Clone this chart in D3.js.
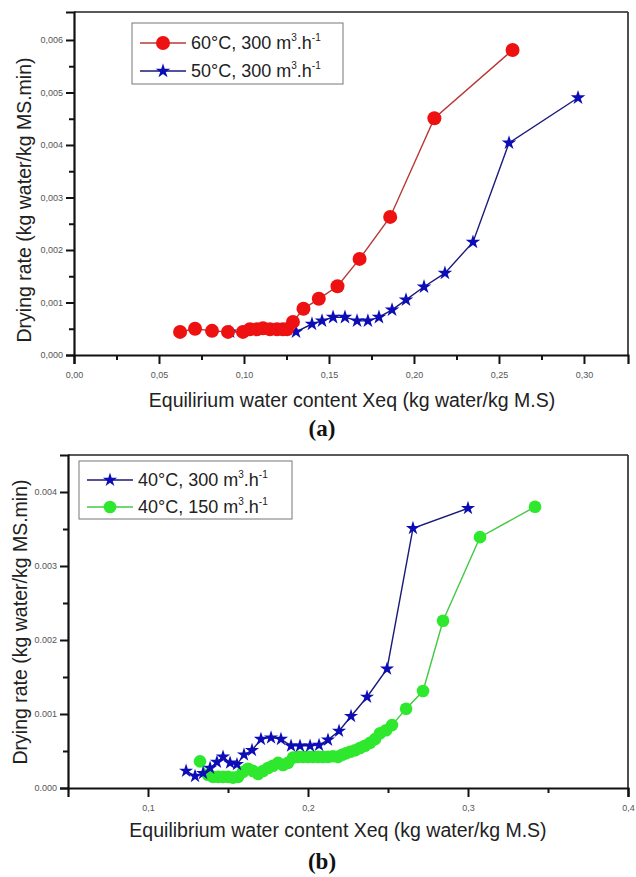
<!DOCTYPE html>
<meta charset="utf-8">
<style>
body { margin: 0; background: #fff; }
svg text { font-family: "Liberation Sans", Arial, sans-serif; }
.tick-label { font-size: 9px; fill: #555; }
.axis-title { font-size: 19.5px; fill: #222; }
.panel-tag { font-family: "Liberation Serif", serif !important; font-weight: bold; font-size: 23px; fill: #111; }
.legend-text { font-size: 18px; fill: #222; }
</style>
<body>
<script src="https://d3js.org/d3.v7.min.js"></script>
<script>

// panel (a) - 60°C, 300 m3/h
var redX = [0.0624, 0.0712, 0.0812, 0.0906, 0.0994, 0.1035, 0.1076, 0.1112, 0.1153, 0.1194, 0.1229, 0.1253, 0.1288, 0.135, 0.144, 0.155, 0.168, 0.186, 0.212, 0.258];
var redY = [0.00044, 0.00050, 0.00046, 0.00044, 0.00044, 0.00049, 0.00049, 0.00051, 0.00049, 0.00049, 0.00049, 0.00049, 0.00063, 0.00088, 0.00107, 0.00131, 0.00183, 0.00263, 0.00451, 0.00581];

// panel (a) - 50°C, 300 m3/h
var blueAX = [0.0918, 0.1306, 0.140, 0.1459, 0.1524, 0.1594, 0.1665, 0.1729, 0.1794, 0.1871, 0.1953, 0.2059, 0.2182, 0.2347, 0.2559, 0.2965];
var blueAY = [0.00044, 0.00044, 0.00059, 0.00065, 0.00072, 0.00072, 0.00065, 0.00065, 0.00072, 0.00086, 0.00105, 0.00130, 0.00156, 0.00215, 0.00404, 0.00490];

// panel (b) - 40°C, 300 m3/h
var blueBX = [0.1238, 0.1294, 0.1344, 0.1388, 0.1431, 0.1469, 0.1513, 0.1556, 0.160, 0.165, 0.1706, 0.1769, 0.1831, 0.1894, 0.195, 0.2013, 0.2069, 0.2125, 0.2194, 0.2269, 0.2369, 0.2494, 0.2656, 0.300];
var blueBY = [0.00023, 0.00016, 0.00020, 0.00027, 0.00035, 0.00042, 0.00034, 0.00032, 0.00045, 0.00051, 0.00066, 0.00068, 0.00066, 0.00057, 0.00057, 0.00057, 0.00058, 0.00065, 0.00077, 0.00097, 0.00123, 0.00161, 0.00351, 0.00378];

// panel (b) - 40°C, 150 m3/h
var greenX = [0.1325, 0.1375, 0.1406, 0.1438, 0.1469, 0.150, 0.1531, 0.1563, 0.1594, 0.1625, 0.1656, 0.1688, 0.1719, 0.175, 0.1781, 0.1813, 0.1844, 0.1875, 0.1906, 0.1938, 0.1969, 0.200, 0.2031, 0.2063, 0.2094, 0.2125, 0.2156, 0.2188, 0.2213, 0.2238, 0.2263, 0.2294, 0.2325, 0.2356, 0.2388, 0.2419, 0.245, 0.2488, 0.2525, 0.2613, 0.2719, 0.2844, 0.3075, 0.3419];
var greenY = [0.00036, 0.00018, 0.00015, 0.00015, 0.00015, 0.00015, 0.00014, 0.00015, 0.00022, 0.00026, 0.00023, 0.00019, 0.00023, 0.00027, 0.00030, 0.00034, 0.00031, 0.00034, 0.00041, 0.00042, 0.00042, 0.00042, 0.00042, 0.00042, 0.00042, 0.00042, 0.00043, 0.00042, 0.00045, 0.00047, 0.00049, 0.00051, 0.00054, 0.00057, 0.00061, 0.00066, 0.00074, 0.00078, 0.00085, 0.00107, 0.00131, 0.00226, 0.00339, 0.00380];

var aXTicks = [0, 0.05, 0.10, 0.15, 0.20, 0.25, 0.30];
var aYTicks = [0, 0.001, 0.002, 0.003, 0.004, 0.005, 0.006];
var bXTicks = [0.1, 0.2, 0.3, 0.4];
var bYTicks = [0, 0.001, 0.002, 0.003, 0.004];

var svg = d3.select("body").append("svg")
  .attr("width", 636)
  .attr("height", 877);

function zipXY(xs, ys) {
  return xs.map(function(x, i) { return [x, ys[i]]; });
}

function drawMarkers(g, pts, s) {
  if (s.shape === "star") {
    g.selectAll(null).data(pts).enter().append("path")
      .attr("transform", function(d) { return "translate(" + d[0] + "," + d[1] + ")"; })
      .attr("d", d3.symbol().type(d3.symbolStar).size(s.size))
      .attr("fill", s.color);
  } else {
    g.selectAll(null).data(pts).enter().append("circle")
      .attr("cx", function(d) { return d[0]; })
      .attr("cy", function(d) { return d[1]; })
      .attr("r", s.r)
      .attr("fill", s.color);
  }
}

function drawPanel(p) {
  var x = d3.scaleLinear().domain(p.xDomain).range([p.left, p.right]);
  var y = d3.scaleLinear().domain(p.yDomain).range([p.bottom, p.top]);
  var g = svg.append("g");

  // frame (top + right thinner)
  g.append("line").attr("x1", p.left).attr("x2", p.right).attr("y1", p.top).attr("y2", p.top)
    .attr("stroke", "#222").attr("stroke-width", 1.6);
  g.append("line").attr("x1", p.right).attr("x2", p.right).attr("y1", p.top).attr("y2", p.bottom)
    .attr("stroke", "#222").attr("stroke-width", 1.6);

  // bottom axis
  var xAxis = d3.axisBottom(x).tickValues(p.xTicks).tickSize(9).tickPadding(8)
    .tickFormat(p.xFormat);
  g.append("g").attr("transform", "translate(0," + p.bottom + ")").call(xAxis);
  var xMinor = d3.axisBottom(x).tickValues(p.xMinor).tickSize(5).tickFormat("");
  g.append("g").attr("transform", "translate(0," + p.bottom + ")").call(xMinor)
    .select(".domain").remove();

  // left axis
  var yAxis = d3.axisLeft(y).tickValues(p.yTicks).tickSize(8).tickPadding(3)
    .tickFormat(p.yFormat);
  g.append("g").attr("transform", "translate(" + p.left + ",0)").call(yAxis);
  var yMinor = d3.axisLeft(y).tickValues(p.yMinor).tickSize(5).tickFormat("");
  g.append("g").attr("transform", "translate(" + p.left + ",0)").call(yMinor)
    .select(".domain").remove();

  g.selectAll(".domain").attr("stroke", "#111").attr("stroke-width", 2.2);
  g.selectAll(".tick line").attr("stroke", "#111").attr("stroke-width", 2);
  g.selectAll(".tick text").attr("class", "tick-label");
  g.selectAll("g").attr("font-size", null).attr("font-family", null);

  // axis titles
  g.append("text").attr("class", "axis-title")
    .attr("transform", "translate(" + p.yTitleX + "," + p.yTitleY + ") rotate(-90)")
    .attr("text-anchor", "middle")
    .text("Drying rate (kg water/kg MS.min)");
  g.append("text").attr("class", "axis-title")
    .attr("x", p.xTitleX).attr("y", p.xTitleY)
    .attr("text-anchor", "middle")
    .text(p.xTitle);
  g.append("text").attr("class", "panel-tag")
    .attr("x", p.tagX).attr("y", p.tagY)
    .attr("text-anchor", "middle")
    .text(p.tag);

  var line = d3.line().x(function(d) { return x(d[0]); }).y(function(d) { return y(d[1]); });

  // drawing order can differ from legend order
  p.drawOrder.forEach(function(k) {
    var s = p.series[k];
    var pts = zipXY(s.xs, s.ys);
    g.append("path").datum(pts)
      .attr("fill", "none")
      .attr("stroke", s.lineColor)
      .attr("stroke-width", 1.4)
      .attr("d", line);
    drawMarkers(g, pts.map(function(d) { return [x(d[0]), y(d[1])]; }), s);
  });

  // legend
  var lg = g.append("g");
  lg.append("rect")
    .attr("x", p.legend.x).attr("y", p.legend.y)
    .attr("width", p.legend.w).attr("height", p.legend.h)
    .attr("fill", "#fff").attr("stroke", "#777").attr("stroke-width", 1);
  p.legend.rows.forEach(function(r, i) {
    var cy = p.legend.y + p.legend.row0 + i * p.legend.rowStep;
    var s = p.series[r.series];
    lg.append("line")
      .attr("x1", p.legend.x + 8).attr("x2", p.legend.x + 54)
      .attr("y1", cy).attr("y2", cy)
      .attr("stroke", s.lineColor).attr("stroke-width", 1.4);
    drawMarkers(lg, [[p.legend.x + 31, cy]], s);
    var t = lg.append("text").attr("class", "legend-text")
      .attr("x", p.legend.x + 59).attr("y", cy + 6);
    t.append("tspan").text(r.label + " m");
    t.append("tspan").attr("font-size", "10px").attr("dy", -8).text("3");
    t.append("tspan").attr("dy", 8).text(".h");
    t.append("tspan").attr("font-size", "10px").attr("dy", -8).text("-1");
  });
}

drawPanel({
  left: 74, right: 628, top: 12, bottom: 355,
  xDomain: [0, 0.3259], yDomain: [0, 0.006533],
  xTicks: aXTicks, xMinor: [0.025, 0.075, 0.125, 0.175, 0.225, 0.275],
  yTicks: aYTicks, yMinor: [0.0005, 0.0015, 0.0025, 0.0035, 0.0045, 0.0055],
  xFormat: function(d) { return d3.format(".2f")(d).replace(".", ","); },
  yFormat: function(d) { return d3.format(".3f")(d).replace(".", ","); },
  yTitleX: 31, yTitleY: 200,
  xTitle: "Equilirium water content Xeq (kg water/kg M.S)",
  xTitleX: 352, xTitleY: 407,
  tag: "(a)", tagX: 322, tagY: 436,
  series: [
    { xs: redX, ys: redY, color: "#ee1111", lineColor: "#b83838", shape: "circle", r: 7 },
    { xs: blueAX, ys: blueAY, color: "#0d0db8", lineColor: "#1a1a7a", shape: "star", size: 66 }
  ],
  drawOrder: [1, 0],
  legend: { x: 132, y: 23, w: 211, h: 61, row0: 20, rowStep: 28,
    rows: [ { series: 0, label: "60°C, 300" }, { series: 1, label: "50°C, 300" } ] }
});

drawPanel({
  left: 68, right: 628, top: 455, bottom: 788,
  xDomain: [0.05, 0.4], yDomain: [0, 0.0045],
  xTicks: bXTicks, xMinor: [0.15, 0.25, 0.35],
  yTicks: bYTicks, yMinor: [0.0005, 0.0015, 0.0025, 0.0035],
  xFormat: function(d) { return d3.format(".1f")(d).replace(".", ","); },
  yFormat: d3.format(".3f"),
  yTitleX: 27, yTitleY: 622,
  xTitle: "Equilibrium water content Xeq (kg water/kg M.S)",
  xTitleX: 338, xTitleY: 837,
  tag: "(b)", tagX: 322, tagY: 869,
  series: [
    { xs: blueBX, ys: blueBY, color: "#0d0db8", lineColor: "#1a1a7a", shape: "star", size: 62 },
    { xs: greenX, ys: greenY, color: "#2ee82e", lineColor: "#44c844", shape: "circle", r: 6.3 }
  ],
  drawOrder: [1, 0],
  legend: { x: 79, y: 461, w: 213, h: 58, row0: 19, rowStep: 27,
    rows: [ { series: 0, label: "40°C, 300" }, { series: 1, label: "40°C, 150" } ] }
});

</script>
</body>
